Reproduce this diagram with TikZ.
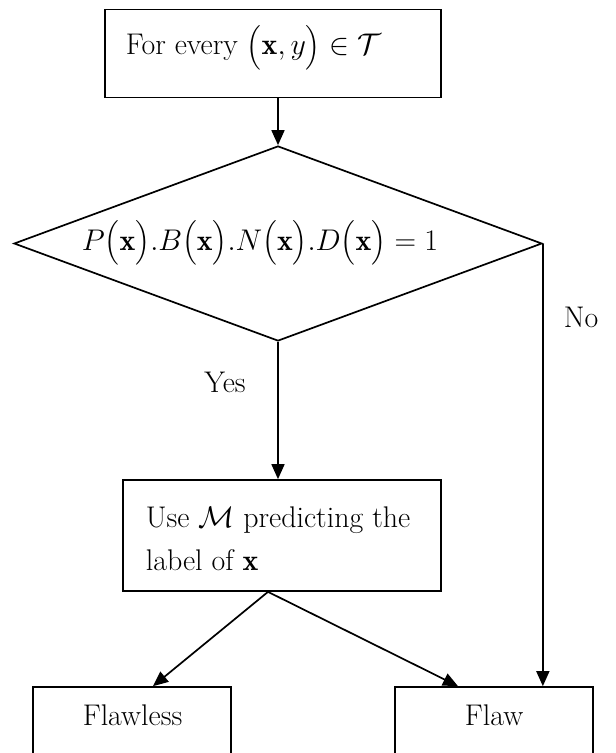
\RequirePackage{fix-cm}
\documentclass[tikz,border=0pt]{standalone}
\usepackage{exscale}
\usepackage{fontspec}
\usetikzlibrary{arrows.meta,shapes.geometric}
\begin{document}
\begin{tikzpicture}[x=1bp,y=-1bp,
  line width=1.7bp,
  box/.style={draw,rectangle,inner sep=0pt},
  txt/.style={inner sep=0pt,font=\fontsize{30}{43}\selectfont},
  arr/.style={-{Triangle[length=15bp,width=13bp]}}]
\useasboundingbox (0,0) rectangle (616,753);
\clip (0,0) rectangle (616,753);
% boxes
\node[box,minimum width=336bp,minimum height=88bp] (top) at (273,53.5) {};
\node[txt,anchor=base west] (toptext) at (125,55) {For every $\bigl(\mathbf{x}, y\bigr) \in \mathcal{T}$};
\node[draw,diamond,inner sep=0pt,minimum width=528bp,minimum height=195bp] (dia) at (278,243.5) {};
\node[txt] (diatext) at (260,243) {$P\bigl(\mathbf{x}\bigr).B\bigl(\mathbf{x}\bigr).N\bigl(\mathbf{x}\bigr).D\bigl(\mathbf{x}\bigr) = 1$};
\node[box,minimum width=318bp,minimum height=111bp] (mid) at (282,535.5) {};
\node[txt,anchor=north west,align=left] (midtext) at (145,506) {Use $\mathcal{M}$ predicting the\\label of $\mathbf{x}$};
\node[box,minimum width=198bp,minimum height=90bp] (flawless) at (132,732) {};
\node[txt,anchor=base] (flawlesstext) at (132.5,725) {Flawless};
\node[box,minimum width=198bp,minimum height=90bp] (flaw) at (494,732) {};
\node[txt,anchor=base] (flawtext) at (494,725) {Flaw};
\node[txt,anchor=base] (yes) at (225,392) {Yes};
\node[txt,anchor=base west] (no) at (563,327) {No};
% connectors
\coordinate (split) at ([xshift=-14bp]mid.south);
\draw[arr] (dia.north |- top.south) -- (dia.north);
\draw[arr] (dia.south) -- (dia.south |- mid.north);
\draw[arr] (split) -- ([xshift=21bp]flawless.north);
\draw[arr] (split) -- ([xshift=-36bp]flaw.north);
\draw[arr] (dia.east) -- (dia.east |- flaw.north);
\end{tikzpicture}
\end{document}
